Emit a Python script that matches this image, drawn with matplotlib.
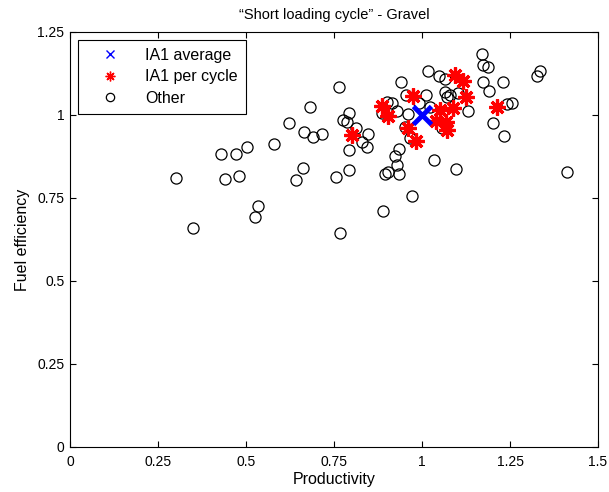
import matplotlib.pyplot as plt
from matplotlib.lines import Line2D

plt.rcParams['font.family'] = ['Liberation Sans', 'DejaVu Sans']

# "Other" machines/operators
other_x = [0.764, 0.682, 0.793, 0.776, 0.787, 0.622, 0.665, 0.690, 0.716, 0.813,
           0.847, 0.830, 0.844, 0.793, 0.580, 0.503, 0.472, 0.429, 0.662, 0.642,
           0.756, 0.793, 0.480, 0.440, 0.301, 0.534, 0.526, 0.349, 0.767, 0.889,
           0.972, 0.935, 0.923, 0.929, 0.903, 0.895, 0.935, 1.034, 1.097, 1.170,
           1.173, 1.188, 1.017, 1.048, 1.065, 0.940, 1.173, 1.230, 1.190, 1.335,
           1.327, 1.065, 1.071, 1.080, 1.102, 0.955, 1.011, 0.901, 0.915, 0.929,
           0.886, 0.960, 1.023, 1.131, 1.241, 1.256, 1.202, 1.233, 1.412, 0.952,
           0.966, 1.057, 0.991]
other_y = [1.084, 1.024, 1.006, 0.985, 0.979, 0.976, 0.949, 0.934, 0.943, 0.961,
           0.943, 0.919, 0.904, 0.895, 0.913, 0.904, 0.883, 0.883, 0.840, 0.804,
           0.813, 0.834, 0.816, 0.807, 0.810, 0.726, 0.693, 0.660, 0.645, 0.711,
           0.756, 0.898, 0.877, 0.849, 0.828, 0.822, 0.822, 0.864, 0.837, 1.184,
           1.151, 1.145, 1.133, 1.117, 1.108, 1.099, 1.099, 1.099, 1.072, 1.133,
           1.117, 1.069, 1.054, 1.060, 1.066, 1.060, 1.060, 1.039, 1.036, 1.012,
           1.006, 1.003, 1.024, 1.012, 1.033, 1.036, 0.976, 0.937, 0.828, 0.964,
           0.931, 0.961, 1.036]

# IA1 per cycle
cycle_x = [0.886, 0.903, 0.974, 1.094, 1.116, 1.125, 1.088, 1.051, 1.040, 1.068,
           1.071, 0.960, 0.983, 0.801, 1.213]
cycle_y = [1.027, 0.997, 1.057, 1.120, 1.102, 1.054, 1.021, 1.015, 0.982, 0.979,
           0.955, 0.961, 0.922, 0.940, 1.024]

# IA1 average
avg_x = [1.0]
avg_y = [1.0]

xticks = [0, 0.25, 0.5, 0.75, 1, 1.25, 1.5]
xticklabels = ['0', '0.25', '0.5', '0.75', '1', '1.25', '1.5']
yticks = [0, 0.25, 0.5, 0.75, 1, 1.25]
yticklabels = ['0', '0.25', '0.5', '0.75', '1', '1.25']

fig = plt.figure(figsize=(6.09, 4.92), dpi=100)
ax = fig.add_axes([0.115, 0.0915, 0.867, 0.8435])

ax.plot(other_x, other_y, 'o', ls='none', mfc='none', mec='black',
        ms=8, mew=0.9)
ax.plot(cycle_x, cycle_y, ls='none', color='red', ms=11.5, mew=2.3,
        marker=(8, 2, 0))
ax.plot(avg_x, avg_y, 'x', ls='none', color='blue', ms=13, mew=3.5)

ax.set_xlim(0, 1.5)
ax.set_ylim(0, 1.25)
ax.set_xticks(xticks)
ax.set_xticklabels(xticklabels)
ax.set_yticks(yticks)
ax.set_yticklabels(yticklabels)
ax.tick_params(direction='in', top=True, right=True, labelsize=10, length=4, width=0.8)
ax.tick_params(axis='x', pad=6)
ax.tick_params(axis='y', pad=4)
for s in ax.spines.values():
    s.set_linewidth(0.8)

ax.set_xlabel('Productivity', fontsize=11.5, labelpad=2)
ax.set_ylabel('Fuel efficiency', fontsize=11.5, labelpad=5)
ax.set_title('\u201cShort loading cycle\u201d - Gravel', fontsize=10.5, pad=9)

# legend with small markers like matlab
lh = [Line2D([], [], marker='x', ls='none', color='blue', ms=6, mew=1),
      Line2D([], [], marker=(8, 2, 0), ls='none', color='red', ms=7, mew=1),
      Line2D([], [], marker='o', ls='none', mfc='none', mec='black', ms=6, mew=0.9)]
leg = ax.legend(lh, ['IA1 average', 'IA1 per cycle', 'Other'], loc='upper left',
                fontsize=11.5, fancybox=False, edgecolor='black', framealpha=1,
                borderaxespad=0.5, handlelength=3.0, labelspacing=0.4,
                handletextpad=0.7, borderpad=0.5)
leg.get_frame().set_linewidth(0.8)

fig.savefig('out.png', dpi=100)
